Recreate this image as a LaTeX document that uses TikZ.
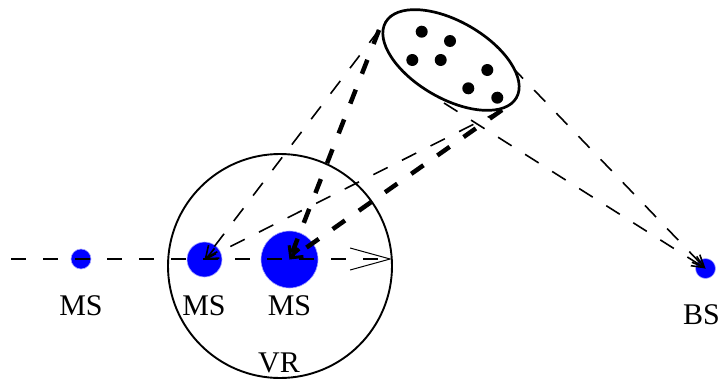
\documentclass[tikz,border=0pt]{standalone}
\usepackage{fontspec}
\setmainfont{Liberation Serif}
\usetikzlibrary{arrows.meta,shapes.geometric}
\begin{document}
\begin{tikzpicture}[x=1pt,y=-1pt,
  station/.style={circle,fill=blue,draw=blue!35!white,line width=0.6pt,inner sep=0pt},
  lbl/.style={anchor=base,inner sep=0pt,font=\fontsize{30}{32}\selectfont},
  hline/.style={line width=2.2pt,dash pattern=on 15pt off 17pt,
    -{Straight Barb[length=40pt,width=22pt,line width=1pt]}},
  thinray/.style={line width=1.6pt,dash pattern=on 16pt off 16pt,
    -{Straight Barb[length=12pt,width=11pt,line width=1.6pt]}},
  thickray/.style={line width=4.5pt,dash pattern=on 15pt off 17pt,
    -{Straight Barb[length=10pt,width=11pt,line width=3pt]}},
  dot/.style={circle,fill=black,minimum size=12pt,inner sep=0pt},
  cluster/.style={ellipse,draw,fill=white,line width=2.7pt,inner sep=0pt,
    minimum width=151pt,minimum height=77pt}
]
\useasboundingbox (0,0) rectangle (721,383);

% stations
\node[station,minimum size=20pt] (ms1) at (81,259) {};
\node[station,minimum size=35pt] (ms2) at (204.5,259.5) {};
\node[station,minimum size=57pt] (ms3) at (289.5,259.5) {};
\node[station,minimum size=20pt] (bs) at (705.5,268.5) {};

% visibility region
\node[circle,draw,line width=1.9pt,minimum size=224pt,inner sep=0pt] (vr) at (280,266) {};

% labels
\node[lbl] (lms1) at (81,315) {MS};
\node[lbl] (lms2) at (204,315) {MS};
\node[lbl] (lms3) at (289.5,315) {MS};
\node[lbl] (lvr) at (279,372) {VR};
\node[lbl] (lbs) at (701.5,324) {BS};

% connector end points on the cluster
\coordinate (A) at (379,30);
\coordinate (B) at (502,110);
\coordinate (C) at (444,103);
\coordinate (D) at (512,67);
\coordinate (hstart) at (11,259);
\coordinate (hend) at (392,259);

% movement
\draw[hline] (hstart) -- (hend);

% rays
\draw[thinray] (A) -- (ms2.center);
\draw[thinray] (B) -- (ms2.center);
\draw[thickray] (A) -- (ms3.center);
\draw[thickray] (B) -- (ms3.center);
\draw[thinray] (C) -- (bs.center);
\draw[thinray] (D) -- (bs.center);

% scatterer cluster
\node[cluster,rotate=-30] (ell) at (451,60) {};
\node[dot] (d1) at (421.7,31.7) {};
\node[dot] (d2) at (450,41) {};
\node[dot] (d3) at (412.3,60) {};
\node[dot] (d4) at (440.7,60) {};
\node[dot] (d5) at (487.3,70) {};
\node[dot] (d6) at (468.3,88.3) {};
\node[dot] (d7) at (497.3,97.7) {};
\end{tikzpicture}
\end{document}
